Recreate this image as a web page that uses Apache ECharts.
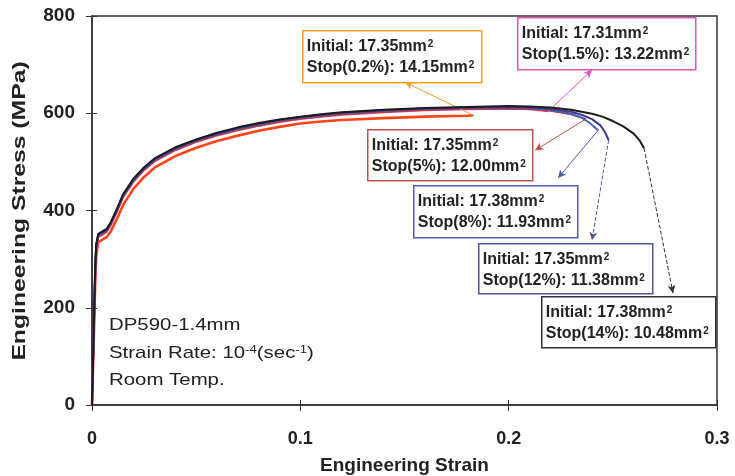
<!DOCTYPE html>
<html>
<head>
<meta charset="utf-8">
<script src="https://cdn.jsdelivr.net/npm/echarts@6/dist/echarts.min.js"></script>
<style>
  html, body { margin: 0; padding: 0; background: #fff; }
  #chart { width: 735px; height: 476px; }
</style>
</head>
<body>
<div id="chart"></div>
<script>
// Tensile test curves, DP590-1.4mm, interrupted at several post-uniform strain levels.

// Shared strain points for the loading part of every curve
const strainBase = [0, 0.0005, 0.001, 0.0015, 0.002, 0.003, 0.005, 0.007, 0.009, 0.012, 0.015, 0.02,
  0.025, 0.03, 0.04, 0.05, 0.06, 0.07, 0.08, 0.09, 0.1, 0.11, 0.12, 0.14, 0.16, 0.18];

// Stress (MPa) for each specimen on strainBase, then its own tail (strain, stress)
const stress02 = [0, 80, 160, 245, 305, 335, 340, 345, 357, 383, 412, 445, 469, 488, 512, 529, 543, 554, 564, 572, 579, 583, 586, 590, 593, 595];
const tailStrain02 = [0.183];
const tailStress02 = [596];

const stress15 = [0, 85, 170, 255, 318, 345, 350, 356, 370, 398, 428, 460, 483, 501, 524, 541, 554, 565, 574, 582, 588, 593, 597, 602, 606, 608];
const tailStrain15 = [0.2, 0.21, 0.219];
const tailStress15 = [609, 608, 604];

const stress5 = [0, 88, 175, 265, 322, 347, 352, 357, 371, 399, 429, 461, 484, 502, 525, 542, 555, 566, 575, 583, 589, 594, 598, 603, 607, 609];
const tailStrain5 = [0.2, 0.21, 0.22, 0.23, 0.237];
const tailStress5 = [610, 609, 605, 598, 588];

const stress8 = [0, 90, 180, 270, 326, 349, 354, 359, 373, 401, 431, 463, 486, 504, 527, 544, 557, 568, 577, 585, 591, 596, 600, 605, 609, 611];
const tailStrain8 = [0.2, 0.21, 0.22, 0.23, 0.235, 0.239, 0.241, 0.243];
const tailStress8 = [612, 611, 607, 599, 591, 580, 572, 565];

const stress12 = [0, 92, 185, 275, 328, 350, 355, 360, 374, 402, 432, 464, 487, 505, 528, 545, 558, 569, 578, 586, 592, 597, 601, 606, 610, 612];
const tailStrain12 = [0.2, 0.21, 0.22, 0.23, 0.235, 0.24, 0.244, 0.246, 0.248];
const tailStress12 = [613, 612, 609, 603, 597, 588, 575, 563, 545];

const stress14 = [0, 95, 190, 280, 330, 352, 357, 362, 376, 404, 434, 466, 489, 507, 530, 546, 560, 571, 580, 587, 593, 598, 602, 607, 611, 613];
const tailStrain14 = [0.2, 0.21, 0.22, 0.23, 0.24, 0.245, 0.25, 0.255, 0.26, 0.263, 0.265];
const tailStress14 = [615, 614, 612, 607, 599, 593, 584, 573, 558, 543, 528];

// Cross-section areas shown in the callouts
const stopLabels = ['0.2%', '1.5%', '5%', '8%', '12%', '14%'];
const initialArea = ['17.35', '17.31', '17.35', '17.38', '17.35', '17.38'];
const stopArea = ['14.15', '13.22', '12.00', '11.93', '11.38', '10.48'];

// Axis ticks
const xTicks = [0, 0.1, 0.2, 0.3];
const yTicks = [0, 200, 400, 600, 800];

function pairs(sx, sy, tx, ty) {
  const out = [];
  for (let i = 0; i < sx.length; i++) out.push([sx[i], sy[i]]);
  for (let i = 0; i < tx.length; i++) out.push([tx[i], ty[i]]);
  return out;
}

const curves = [
  pairs(strainBase, stress02, tailStrain02, tailStress02),
  pairs(strainBase, stress15, tailStrain15, tailStress15),
  pairs(strainBase, stress5, tailStrain5, tailStress5),
  pairs(strainBase, stress8, tailStrain8, tailStress8),
  pairs(strainBase, stress12, tailStrain12, tailStress12),
  pairs(strainBase, stress14, tailStrain14, tailStress14)
];

const lineColors = ['#ff4418', '#e0409a', '#c0392b', '#4a5fc0', '#3c3a8c', '#1c1c1c'];
const boxColors = ['#f0a030', '#e055b0', '#c0504d', '#4f5fa8', '#55559a', '#333333'];
const lineWidths = [2.6, 2, 2, 2, 2, 2];

// Callout boxes (pixels) and where each leader arrow lands (data units)
const boxes = [
  { left: 302, top: 30, w: 179, h: 52 },
  { left: 517, top: 17, w: 178, h: 52 },
  { left: 367, top: 129, w: 165, h: 51 },
  { left: 413, top: 185, w: 164, h: 52 },
  { left: 478, top: 243, w: 174, h: 50 },
  { left: 541, top: 296, w: 174, h: 51 }
];
const arrowHeads = [[0.1502, 664], [0.240, 689], [0.2127, 524], [0.2237, 467], [0.240, 339], [0.2789, 230]];
const arrowDash = ['solid', 'solid', 'solid', 'solid', [4, 2], [4, 2]];

const FONT = "'Liberation Sans', Arial, sans-serif";

const series = curves.map((d, i) => {
  const end = d[d.length - 1];
  return {
    type: 'line',
    data: d,
    showSymbol: false,
    smooth: false,
    lineStyle: { color: lineColors[i], width: lineWidths[i], join: 'round' },
    z: 2 + i,
    silent: true,
    markLine: {
      silent: true,
      symbol: ['none', 'arrow'],
      symbolSize: [6, 8],
      label: { show: false },
      lineStyle: { color: boxColors[i], width: 1, type: arrowDash[i] },
      data: [[{ coord: end }, { coord: arrowHeads[i] }]]
    }
  };
});

const supRich = {
  b: { font: 'bold 16px ' + FONT, fill: '#222', color: '#222' },
  s: { font: 'bold 10px ' + FONT, fill: '#222', color: '#222', verticalAlign: 'top', padding: [0, 0, 0, 1] }
};

const graphics = boxes.map((b, i) => ({
  type: 'group',
  left: b.left,
  top: b.top,
  z: 100,
  children: [
    {
      type: 'rect',
      shape: { x: 0, y: 0, width: b.w, height: b.h },
      style: { fill: '#fff', stroke: boxColors[i], lineWidth: 1.5 }
    },
    {
      type: 'text',
      style: {
        x: 4, y: 16,
        text: '{b|Initial: ' + initialArea[i] + 'mm}{s|2}',
        rich: supRich,
        verticalAlign: 'middle'
      }
    },
    {
      type: 'text',
      style: {
        x: 4, y: 37,
        text: '{b|Stop(' + stopLabels[i] + '): ' + stopArea[i] + 'mm}{s|2}',
        rich: supRich,
        verticalAlign: 'middle'
      }
    }
  ]
}));

// Specimen notes, lower left of the plot
const noteRich = {
  n: { font: '17px ' + FONT, fill: '#222', color: '#222' },
  s: { font: '11px ' + FONT, fill: '#222', color: '#222', verticalAlign: 'top' }
};
const noteScale = 1.2;
graphics.push(
  { type: 'text', x: 109, y: 325, scaleX: noteScale, z: 100, style: { text: '{n|DP590-1.4mm}', rich: noteRich, verticalAlign: 'middle' } },
  { type: 'text', x: 109, y: 353, scaleX: noteScale, z: 100, style: { text: '{n|Strain Rate: 10}{s|-4}{n|(sec}{s|-1}{n|)}', rich: noteRich, verticalAlign: 'middle' } },
  { type: 'text', x: 109, y: 380, scaleX: noteScale, z: 100, style: { text: '{n|Room Temp.}', rich: noteRich, verticalAlign: 'middle' } }
);

// Vertical axis title
graphics.push({
  type: 'text', x: 20, y: 211, rotation: Math.PI / 2, scaleX: 1.3, z: 100,
  style: {
    text: 'Engineering Stress (MPa)',
    font: 'bold 19px ' + FONT, fill: '#222',
    align: 'center', verticalAlign: 'middle'
  }
});

const chart = echarts.init(document.getElementById('chart'), null, { renderer: 'canvas' });

chart.setOption({
  backgroundColor: '#fff',
  animation: false,
  grid: {
    left: 92, right: 18, top: 16, bottom: 71,
    outerBoundsMode: 'none', containLabel: false,
    show: true, borderColor: '#333', borderWidth: 1.5, backgroundColor: 'transparent'
  },
  xAxis: [
    {
      type: 'value', min: xTicks[0], max: xTicks[xTicks.length - 1], interval: 0.1,
      name: 'Engineering Strain', nameLocation: 'middle', nameGap: 51,
      nameTextStyle: { color: '#222', fontFamily: FONT, fontWeight: 'bold', fontSize: 19 },
      axisLine: { show: true, lineStyle: { color: '#333', width: 1.5 } },
      axisTick: { show: true, inside: false, length: 6, lineStyle: { color: '#333' } },
      axisLabel: { margin: 25, color: '#222', fontFamily: FONT, fontWeight: 'bold', fontSize: 18 },
      splitLine: { show: false }
    },
    {
      type: 'value', min: xTicks[0], max: xTicks[xTicks.length - 1], interval: 0.1, position: 'bottom',
      axisLine: { show: false },
      axisTick: { show: true, inside: true, length: 5, lineStyle: { color: '#333' } },
      axisLabel: { show: false },
      splitLine: { show: false }
    }
  ],
  yAxis: [
    {
      type: 'value', min: yTicks[0], max: yTicks[yTicks.length - 1], interval: 200,
      axisLine: { show: true, lineStyle: { color: '#333', width: 1.5 } },
      axisTick: { show: true, inside: false, length: 6, lineStyle: { color: '#333' } },
      axisLabel: { margin: 17, color: '#222', fontFamily: FONT, fontWeight: 'bold', fontSize: 19 },
      splitLine: { show: false }
    },
    {
      type: 'value', min: yTicks[0], max: yTicks[yTicks.length - 1], interval: 200, position: 'left',
      axisLine: { show: false },
      axisTick: { show: true, inside: true, length: 5, lineStyle: { color: '#333' } },
      axisLabel: { show: false },
      splitLine: { show: false }
    }
  ],
  series: series,
  graphic: graphics
});
</script>
</body>
</html>
